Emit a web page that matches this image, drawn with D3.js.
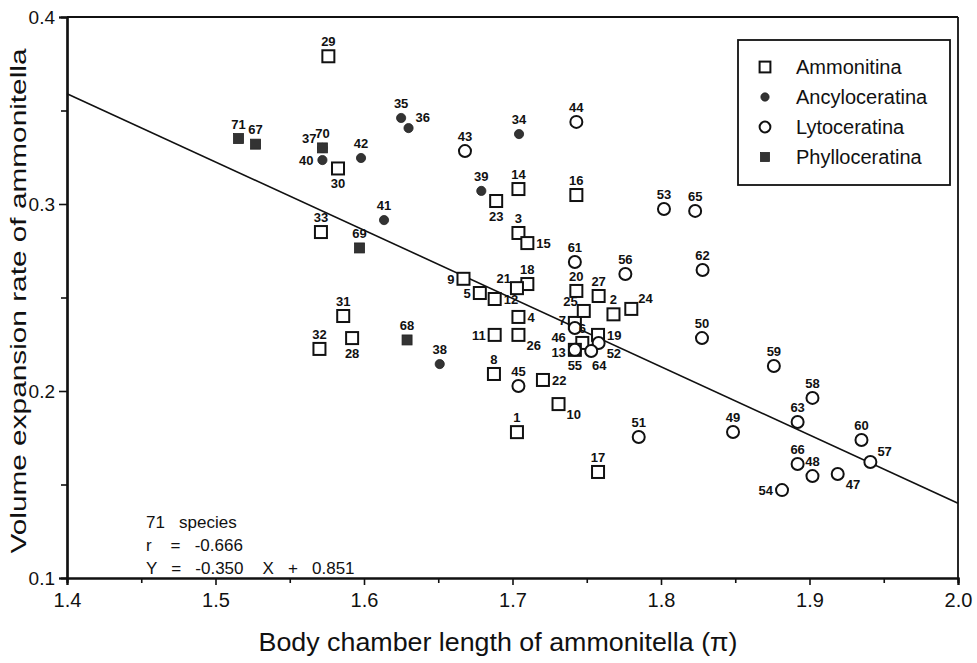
<!DOCTYPE html>
<html><head><meta charset="utf-8">
<script src="https://cdn.jsdelivr.net/npm/d3@7"></script>
<style>
body{margin:0;background:#fff;}
text{font-family:"Liberation Sans",Arial,Helvetica,sans-serif;fill:#111;}
</style></head>
<body><svg id="chart" width="977" height="663"></svg>
<script>
// ---- data ----
const groups = ["Ammonitina","Ancyloceratina","Lytoceratina","Phylloceratina"];
const pointIds = [1,2,3,4,5,6,7,8,9,10,11,12,13,14,15,16,17,18,19,20,21,22,23,24,25,26,27,28,29,30,31,32,33,
  34,35,36,37,38,39,40,41,42,
  43,44,45,46,47,48,49,50,51,52,53,54,55,56,57,58,59,60,61,62,63,64,65,66,
  67,68,69,70,71];
const pointX = [1.703,1.768,1.704,1.704,1.678,1.747,1.742,1.6875,1.667,1.731,1.688,1.688,1.742,1.704,1.710,1.743,1.7576,1.710,1.7576,1.743,1.703,1.7205,1.689,1.780,1.748,1.704,1.758,1.592,1.576,1.5825,1.586,1.570,1.571,
  1.7044,1.625,1.630,1.572,1.651,1.679,1.572,1.6135,1.598,
  1.668,1.743,1.704,1.742,1.919,1.902,1.8485,1.8276,1.785,1.758,1.802,1.8815,1.742,1.776,1.941,1.902,1.876,1.935,1.742,1.828,1.892,1.753,1.823,1.892,
  1.527,1.629,1.597,1.572,1.5155];
const pointY = [0.178,0.241,0.2845,0.2396,0.2524,0.2257,0.2364,0.2091,0.260,0.193,0.230,0.2492,0.222,0.308,0.2791,0.3048,0.1567,0.2572,0.230,0.2535,0.255,0.2059,0.3016,0.2439,0.2428,0.230,0.2508,0.2283,0.379,0.319,0.2401,0.2225,0.285,
  0.3374,0.346,0.3406,0.330,0.2144,0.307,0.3235,0.2914,0.3246,
  0.3283,0.3439,0.2027,0.2337,0.1556,0.1545,0.1781,0.2283,0.1754,0.2257,0.2973,0.147,0.222,0.2626,0.162,0.1963,0.2134,0.1738,0.269,0.2647,0.1834,0.2214,0.2963,0.161,
  0.332,0.2273,0.2765,0.330,0.335];
const pointGroup = pointIds.map(i => i<=33 ? 0 : i<=42 ? 1 : i<=66 ? 2 : 3);
// label side per point id (default: top)
const labelSide = {4:"r",5:"l",7:"l1",9:"l",10:"br",11:"l",12:"r",13:"l2",15:"r",19:"r",21:"tl",22:"r",23:"b",24:"tr",25:"tl",26:"br",
  28:"b",30:"b",36:"tr",37:"tl",40:"l",46:"l3",47:"br",52:"br",54:"l",55:"b",57:"tr",64:"b2"};
const xTicks = [1.4,1.5,1.6,1.7,1.8,1.9,2.0];
const xMinor = [1.45,1.55,1.65,1.75,1.85,1.95];
const yTicks = [0.1,0.2,0.3,0.4];
const yMinor = [0.15,0.25,0.35];
const fitX = [1.4,2.0];
const fitY = [0.359,0.140];
const statsText = ["71   species","r    =   -0.666","Y   =   -0.350    X   +   0.851"];

// ---- chart ----
const svg = d3.select("#chart");
const x = d3.scaleLinear().domain([1.4,2.0]).range([67,958]);
const y = d3.scaleLinear().domain([0.1,0.4]).range([578,17]);

// frame
svg.append("line").attr("x1",x(1.4)).attr("x2",x(2.0)).attr("y1",y(0.4)).attr("y2",y(0.4)).attr("stroke","#111").attr("stroke-width",1.8);
svg.append("line").attr("x1",x(2.0)).attr("x2",x(2.0)).attr("y1",y(0.4)).attr("y2",y(0.1)).attr("stroke","#111").attr("stroke-width",1.8);

const gx = svg.append("g").attr("transform",`translate(0,${y(0.1)})`)
  .call(d3.axisBottom(x).tickValues(xTicks).tickSize(7).tickPadding(8).tickFormat(d3.format(".1f")));
const gxm = svg.append("g").attr("transform",`translate(0,${y(0.1)})`)
  .call(d3.axisBottom(x).tickValues(xMinor).tickSize(5).tickFormat(""));
const gy = svg.append("g").attr("transform",`translate(${x(1.4)},0)`)
  .call(d3.axisLeft(y).tickValues(yTicks).tickSize(8).tickPadding(4).tickFormat(d3.format(".1f")));
const gym = svg.append("g").attr("transform",`translate(${x(1.4)},0)`)
  .call(d3.axisLeft(y).tickValues(yMinor).tickSize(6).tickFormat(""));
[gx,gxm,gy,gym].forEach(g=>{
  g.selectAll(".domain").attr("stroke","#111").attr("stroke-width",2.2);
  g.selectAll(".tick line").attr("stroke","#111").attr("stroke-width",1.6);
  g.selectAll(".tick text").attr("font-size",20).attr("fill","#111").attr("font-family","Liberation Sans, Arial, sans-serif");
});
gy.selectAll(".tick text").attr("font-size",19);

// axis titles
svg.append("text").attr("x",498).attr("y",651).attr("text-anchor","middle")
  .attr("font-size",26).attr("textLength",479).attr("lengthAdjust","spacingAndGlyphs")
  .text("Body chamber length of ammonitella (\u03C0)");
svg.append("text").attr("transform",`translate(26,301) rotate(-90)`).attr("text-anchor","middle")
  .attr("font-size",22).attr("textLength",505).attr("lengthAdjust","spacingAndGlyphs")
  .text("Volume expansion rate of ammonitella");

// regression line
svg.append("line").attr("x1",x(fitX[0])).attr("y1",y(fitY[0])).attr("x2",x(fitX[1])).attr("y2",y(fitY[1]))
  .attr("stroke","#111").attr("stroke-width",1.6);

// symbols
function drawSymbol(sel, g, cx, cy, scale){
  scale = scale||1;
  if(g===0){
    const s=12*scale;
    sel.append("rect").attr("x",cx-s/2).attr("y",cy-s/2).attr("width",s).attr("height",s)
      .attr("fill","#fff").attr("stroke","#111").attr("stroke-width",2);
  } else if(g===1){
    sel.append("circle").attr("cx",cx).attr("cy",cy).attr("r",4.6*scale).attr("fill","#333").attr("stroke","#222").attr("stroke-width",0.8);
  } else if(g===2){
    sel.append("circle").attr("cx",cx).attr("cy",cy).attr("r",6*scale).attr("fill","#fff").attr("stroke","#111").attr("stroke-width",2);
  } else {
    const s=10*scale;
    sel.append("rect").attr("x",cx-s/2).attr("y",cy-s/2).attr("width",s).attr("height",s)
      .attr("fill","#333").attr("stroke","#222").attr("stroke-width",0.8);
  }
}
const pts = svg.append("g");
pointIds.forEach((id,i)=>{ drawSymbol(pts, pointGroup[i], x(pointX[i]), y(pointY[i])); });

const offs = {t:[0,-10,"middle"],b:[0,20,"middle"],b2:[8,19,"middle"],l:[-9,5,"end"],l1:[-9,2,"end"],l2:[-9,7,"end"],l3:[-9,14,"end"],r:[9,5,"start"],
  tr:[7,-6,"start"],tl:[-6,-5,"end"],br:[8,15,"start"],bl:[-8,14,"end"]};
const labs = svg.append("g");
pointIds.forEach((id,i)=>{
  const o = offs[labelSide[id]||"t"];
  labs.append("text").attr("x",x(pointX[i])+o[0]).attr("y",y(pointY[i])+o[1]).attr("text-anchor",o[2])
    .attr("font-size",13).attr("font-weight","bold").attr("fill","#222").text(id);
});

// legend
const lg = svg.append("g");
lg.append("rect").attr("x",738).attr("y",40).attr("width",212).attr("height",145).attr("fill","#fff").attr("stroke","#111").attr("stroke-width",1.8);
groups.forEach((name,k)=>{
  const cy = 67 + k*30;
  drawSymbol(lg, k, 765, cy, 0.9);
  lg.append("text").attr("x",796).attr("y",cy+7).attr("font-size",20).text(name);
});

// stats text
statsText.forEach((t,k)=>{
  svg.append("text").attr("x",146).attr("y",528+k*23).attr("font-size",17).attr("xml:space","preserve").style("white-space","pre").text(t);
});
</script></body></html>
